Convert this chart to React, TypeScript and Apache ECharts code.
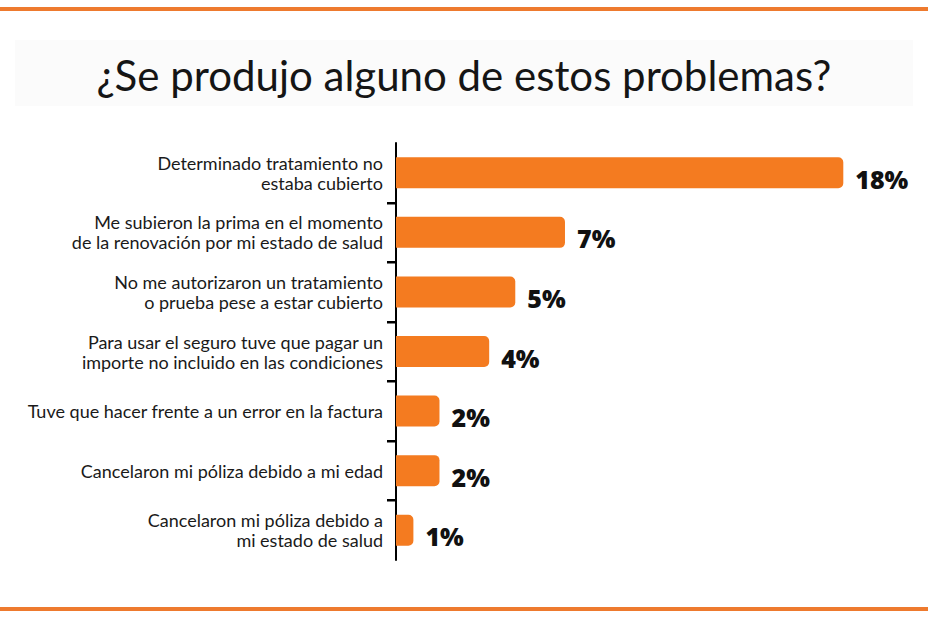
import React, { useEffect, useRef } from "react";
import * as echarts from "echarts";

const categories: string[] = [
  "Determinado tratamiento no\nestaba cubierto",
  "Me subieron la prima en el momento\nde la renovación por mi estado de salud",
  "No me autorizaron un tratamiento\no prueba pese a estar cubierto",
  "Para usar el seguro tuve que pagar un\nimporte no incluido en las condiciones",
  "Tuve que hacer frente a un error en la factura",
  "Cancelaron mi póliza debido a mi edad",
  "Cancelaron mi póliza debido a\nmi estado de salud",
];
// bar lengths (percent)
const values: number[] = [18, 6.8, 4.8, 3.75, 1.75, 1.75, 0.7];
// printed value labels
const valueLabels: string[] = ["18%", "7%", "5%", "4%", "2%", "2%", "1%"];
const titleText = "¿Se produjo alguno de estos problemas?";
// categories whose upper boundary carries a tick on the axis
const tickedCategories: number[] = [1, 2, 3, 4, 5, 6];

const ORANGE = "#F47B20";

const baseGraphic: any[] = [
  { id: "topLine", type: "rect", left: 0, top: 7, shape: { width: 928, height: 4 }, style: { fill: "#EE7A2E" } },
  { id: "bottomLine", type: "rect", left: 0, top: 607, shape: { width: 928, height: 4 }, style: { fill: "#EE7A2E" } },
  { id: "titleBg", type: "rect", left: 15, top: 40, z: -1, shape: { width: 898, height: 66 }, style: { fill: "#fbfbfb" } },
];

export default function App() {
  const ref = useRef<HTMLDivElement>(null);
  useEffect(() => {
    document.body.style.margin = "0";
    if (!ref.current) return;
    const chart = echarts.init(ref.current, undefined, { renderer: "svg" });
    chart.setOption({
      animation: false,
      backgroundColor: "#ffffff",
      title: {
        text: titleText,
        left: "center",
        top: 49,
        textStyle: {
          fontFamily: "Lato",
          fontSize: 42,
          fontWeight: "normal",
          color: "#151515",
        },
      },
      graphic: baseGraphic,
      grid: { left: 396, top: 143, width: 497, bottom: 61 },
      xAxis: { type: "value", min: 0, max: 20, show: false },
      yAxis: {
        type: "category",
        inverse: true,
        data: categories,
        axisLine: { show: true, lineStyle: { color: "#000", width: 2 } },
        axisTick: { show: false },
        axisLabel: {
          margin: 13,
          fontFamily: "Lato",
          fontSize: 18,
          lineHeight: 20,
          color: "#1a1a1a",
        },
      },
      series: [
        {
          type: "bar",
          data: values,
          barWidth: 31,
          itemStyle: { color: ORANGE, borderRadius: [0, 5, 5, 0] },
          label: {
            show: true,
            position: "right",
            distance: 12,
            offset: [0, 6],
            formatter: (p: any) => valueLabels[p.dataIndex],
            fontFamily: "Open Sans",
            fontWeight: 800,
            fontSize: 25,
            color: "#111",
          },
        },
      ],
    });
    // axis ticks between categories, placed through the chart's own scales
    const x0 = chart.convertToPixel({ xAxisIndex: 0 }, 0) as number;
    const ticks = tickedCategories.map((i) => {
      const a = chart.convertToPixel({ yAxisIndex: 0 }, categories[i - 1]) as number;
      const b = chart.convertToPixel({ yAxisIndex: 0 }, categories[i]) as number;
      const y = Math.round((a + b) / 2);
      return {
        id: "tick" + i,
        type: "rect",
        z: 100,
        shape: { x: x0 - 9, y: y - 1, width: 9, height: 2.5 },
        style: { fill: "#000" },
      };
    });
    if (ticks.every((t) => isFinite(t.shape.y) && isFinite(t.shape.x))) {
      chart.setOption({ graphic: [...baseGraphic, ...ticks] });
    }
    return () => chart.dispose();
  }, []);
  return <div ref={ref} style={{ width: 928, height: 621 }} />;
}
